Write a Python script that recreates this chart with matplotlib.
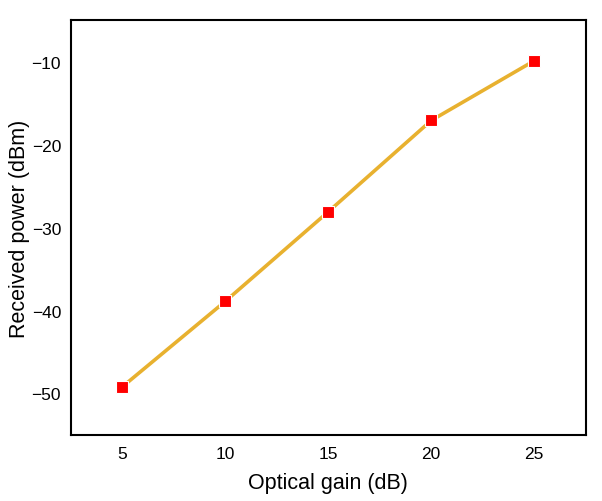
import matplotlib
matplotlib.use("Agg")
import matplotlib.pyplot as plt

gain_db = [5, 10, 15, 20, 25]
received_dbm = [-49.2, -38.9, -28.1, -17.1, -9.9]
xticks = [5, 10, 15, 20, 25]
yticks = [-50, -40, -30, -20, -10]

plt.rcParams['font.family'] = ['Liberation Sans', 'DejaVu Sans']

fig = plt.figure(figsize=(6.02, 5.02), dpi=100)
ax = fig.add_axes([0.1175, 0.1315, 0.973 - 0.1175, 0.958 - 0.1315])

ax.plot(gain_db, received_dbm, color='#E8B12F', linewidth=2.6, zorder=2,
        solid_capstyle='butt')
ax.plot(gain_db, received_dbm, linestyle='none', marker='s', markersize=9,
        markerfacecolor='#FF0000', markeredgecolor='white', markeredgewidth=0.8,
        zorder=3)

ax.set_xlim(2.5, 27.5)
ax.set_ylim(-55, -5)
ax.set_xticks(xticks)
ax.set_yticks(yticks)
ax.tick_params(axis='both', length=0, labelsize=12.5)
ax.tick_params(axis='x', pad=8)
ax.tick_params(axis='y', pad=7)
for s in ax.spines.values():
    s.set_linewidth(1.5)
    s.set_color('black')

ax.set_xlabel('Optical gain (dB)', fontsize=15.5, labelpad=8)
ax.set_ylabel('Received power (dBm)', fontsize=15.5, labelpad=1)

fig.savefig('out.png', dpi=100)
